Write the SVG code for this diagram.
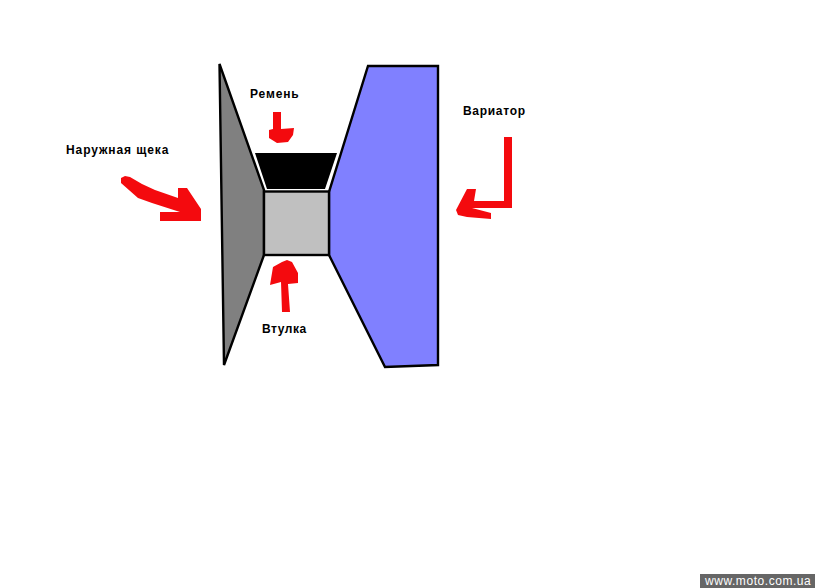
<svg xmlns="http://www.w3.org/2000/svg" width="815" height="588" viewBox="0 0 815 588">
<style>
.o{stroke:#000;stroke-width:2.4;stroke-linejoin:miter}
.a{fill:#f40a0e;stroke:none}
.l{font:bold 12px "Liberation Sans",Arial,sans-serif;fill:#000;letter-spacing:.75px}
</style>
<rect width="815" height="588" fill="#fff"/>
<g id="left-cheek"><polygon class="o" fill="#808080" points="219.500,64 264,190 264,255 224,365"/></g>
<g id="right-cheek"><polygon class="o" fill="#8080ff" points="368,66 438,66 438,365 385,367 329,255 329,192"/></g>
<g id="belt"><polygon fill="#000" points="255,153 337,153 325,189 267,189"/></g>
<g id="bushing"><rect class="o" fill="#c0c0c0" x="264" y="191.500" width="65" height="63.500"/></g>
<g id="connectors">
<polygon class="a" points="273,112 281,112 281,129 294,128 293,135 288,142 277,143 269,138 269,130 273,129"/>
<polygon class="a" points="282,312 290,312 288,284 298,283 298,273 292,262 287,260 282,262 273,267 270,285 281,282"/>
<polygon class="a" points="121,178 125,176 130,177 142,184 155,190 178,198 178,188 187,188 201,209 201,221 160,221 160,212 180,212 152,203 138,198 121,183"/>
<polygon class="a" points="504,137 512,137 512,208 472,208 491,213 491,219 467,217 458,215 456,210 467,189 476,189 474,201 504,201"/>
</g>
<g id="labels">
<text class="l" x="250" y="98" style="letter-spacing:.85px">Ремень</text>
<text class="l" x="66" y="154" style="letter-spacing:.9px">Наружная щека</text>
<text class="l" x="463" y="115" style="letter-spacing:.7px">Вариатор</text>
<text class="l" x="262" y="333" style="letter-spacing:.55px">Втулка</text>
</g>
<g id="watermark"><rect x="700" y="574" width="115" height="14" fill="#666"/>
<text x="705" y="585" font-family="Liberation Sans, Arial, sans-serif" font-size="12" fill="#fff" letter-spacing=".55">www.moto.com.ua</text></g>
</svg>
